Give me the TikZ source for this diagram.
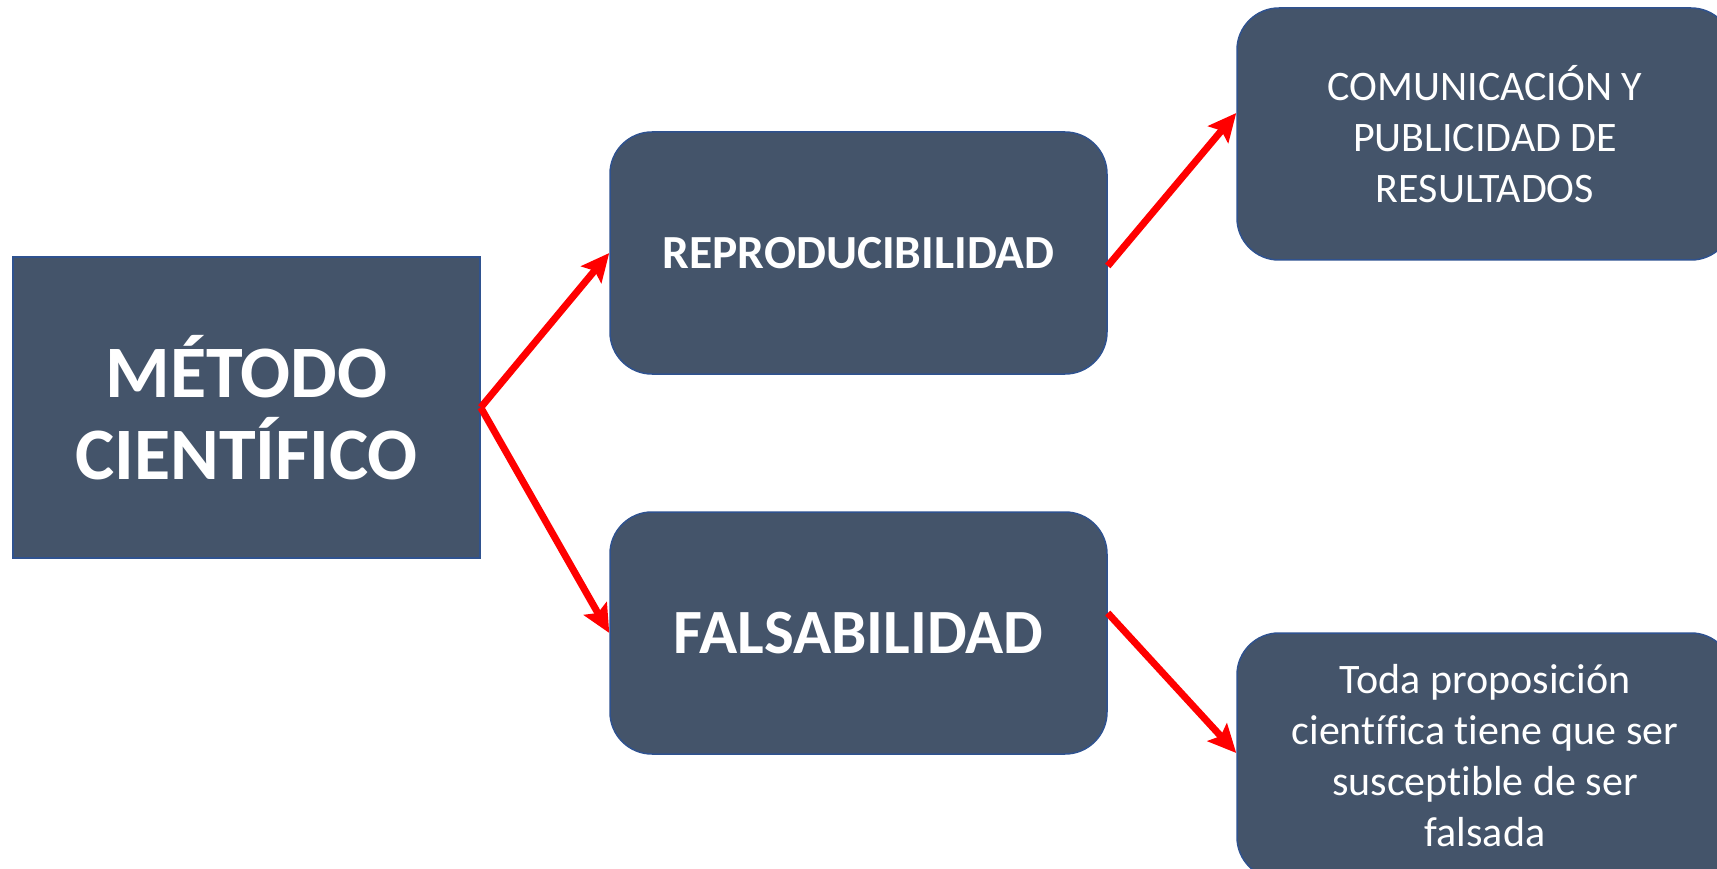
\documentclass[tikz,border=0pt]{standalone}
\usepackage{fontspec}
\setmainfont[Ligatures=NoCommon]{Carlito}
\usetikzlibrary{arrows.meta}
\definecolor{boxfill}{HTML}{44546A}
\definecolor{boxline}{HTML}{2F528F}
\definecolor{arrred}{HTML}{FF0000}
\tikzset{
  box/.style={fill=boxfill, draw=boxline, line width=1.5pt, text=white, inner sep=0pt, align=center},
  rbox/.style={box, rounded corners=42pt},
  conn/.style={draw=arrred, line width=7pt, -{Stealth[length=28pt,width=26pt,inset=5pt]}}
}
\begin{document}
\begin{tikzpicture}[x=1pt,y=-1pt]
\useasboundingbox (0,0) rectangle (1717,869);
\clip (0,0) rectangle (1717,869);
\fill[white] (0,0) rectangle (1717,869);
\node[box, minimum width=467pt, minimum height=301pt, font=\fontsize{74}{82}\selectfont\bfseries] (met) at (246.5,407.5) {MÉTODO\\CIENTÍFICO};
\node[rbox, minimum width=497pt, minimum height=242pt, font=\fontsize{47.5}{52}\selectfont\bfseries] (rep) at (858.5,253) {REPRODUCIBILIDAD};
\node[rbox, minimum width=497pt, minimum height=242pt, font=\fontsize{63}{66}\selectfont\bfseries] (fal) at (858.5,633) {FALSABILIDAD};
\node[rbox, minimum width=496pt, minimum height=252pt, font=\fontsize{42}{51}\selectfont] (com) at (1485,134) {COMUNICACIÓN Y\\PUBLICIDAD DE\\RESULTADOS};
\node[rbox, minimum width=496pt, minimum height=246pt, font=\fontsize{42}{51}\selectfont] (toda) at (1485,756) {Toda proposición\\científica tiene que ser\\susceptible de ser\\falsada};
\draw[conn] (met.east) -- (rep.west);
\draw[conn] (met.east) -- (fal.west);
\draw[conn] ([yshift=-13pt]rep.east) -- ([yshift=21pt]com.west);
\draw[conn] ([yshift=20pt]fal.east) -- ([yshift=3pt]toda.west);
\end{tikzpicture}
\end{document}
